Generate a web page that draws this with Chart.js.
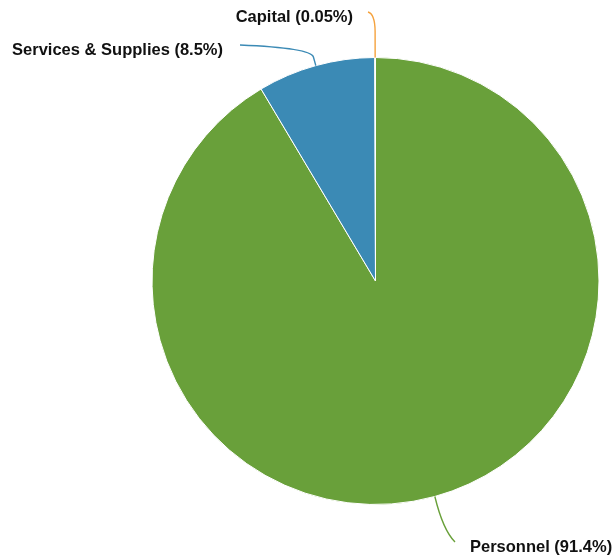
<!DOCTYPE html>
<html>
<head>
<meta charset="utf-8">
<script src="https://cdn.jsdelivr.net/npm/chart.js@4"></script>
<style>
  html, body { margin: 0; padding: 0; background: #fff; }
  #wrap { width: 615px; height: 556px; position: relative; }
</style>
</head>
<body>
<div id="wrap"><canvas id="budgetPie"></canvas></div>
<script>
// categories and their share of the budget (percent)
const categories = ['Personnel', 'Services & Supplies', 'Capital'];
const shares = [91.4, 8.5, 0.05];
const shareLabels = ['91.4%', '8.5%', '0.05%'];
const sliceColors = ['#69a03a', '#3b8ab5', '#f5a23d'];

// where each label sits and how its leader line bends
const labelSpots = [
    { ext: 0,  corner: [443, 530], end: [455, 542], text: [470, 547], align: 'left' },
    { ext: 9,  corner: [311, 48],  end: [240, 45],  text: [223, 50],  align: 'right' },
    { ext: 26, corner: [375, 14],  end: [368, 12],  text: [353, 17],  align: 'right' }
];

const leaderLabels = {
    id: 'leaderLabels',
    afterDatasetsDraw(chart) {
        const ctx = chart.ctx;
        const arcs = chart.getDatasetMeta(0).data;
        ctx.save();
        arcs.forEach((arc, i) => {
            const spot = labelSpots[i];
            const mid = (arc.startAngle + arc.endAngle) / 2;
            const r = arc.outerRadius;
            const sx = arc.x + Math.cos(mid) * r;
            const sy = arc.y + Math.sin(mid) * r;
            const ex = arc.x + Math.cos(mid) * (r + spot.ext);
            const ey = arc.y + Math.sin(mid) * (r + spot.ext);

            ctx.beginPath();
            ctx.moveTo(sx, sy);
            ctx.lineTo(ex, ey);
            ctx.quadraticCurveTo(spot.corner[0], spot.corner[1], spot.end[0], spot.end[1]);
            ctx.strokeStyle = sliceColors[i];
            ctx.lineWidth = 1.4;
            ctx.stroke();

            ctx.fillStyle = '#111';
            ctx.font = 'bold 16.5px "Liberation Sans", Arial, Helvetica, sans-serif';
            ctx.textAlign = spot.align;
            ctx.textBaseline = 'middle';
            ctx.fillText(categories[i] + ' (' + shareLabels[i] + ')', spot.text[0], spot.text[1]);
        });
        ctx.restore();
    }
};

new Chart(document.getElementById('budgetPie'), {
    type: 'pie',
    data: {
        labels: categories,
        datasets: [{
            data: shares,
            backgroundColor: sliceColors,
            borderColor: '#ffffff',
            borderWidth: 1
        }]
    },
    options: {
        responsive: true,
        maintainAspectRatio: false,
        animation: false,
        layout: { padding: { left: 151, right: 15, top: 57, bottom: 51 } },
        plugins: {
            legend: { display: false },
            tooltip: { enabled: false }
        }
    },
    plugins: [leaderLabels]
});
</script>
</body>
</html>
